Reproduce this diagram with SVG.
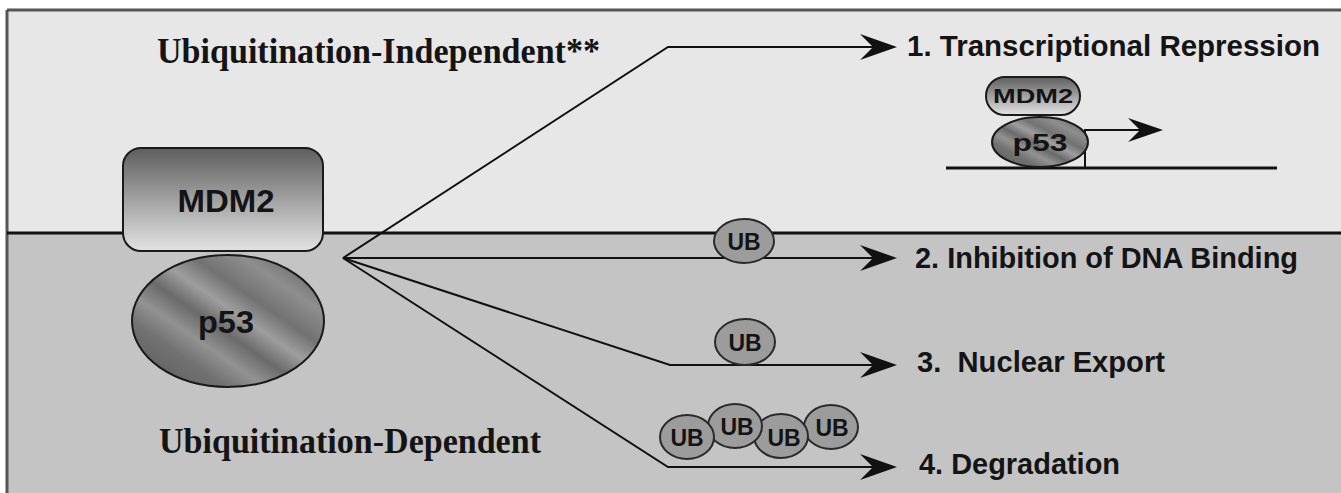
<svg xmlns="http://www.w3.org/2000/svg" width="1341" height="493" viewBox="0 0 1341 493">
<style>
.serif{font-family:"Liberation Serif","Times New Roman",serif;font-weight:bold;fill:#141414}
.sans{font-family:"Liberation Sans",Arial,sans-serif;font-weight:bold;fill:#141414}
.lbl{font-size:30px;white-space:pre}
.conn{fill:none;stroke:#111;stroke-width:2}
.ub{fill:#9c9c9c;stroke:#2a2a2a;stroke-width:2}
.ubt{font-size:23px;text-anchor:middle}
</style>
<defs>
<linearGradient id="gMdm" x1="0" y1="0" x2="0" y2="1">
<stop offset="0" stop-color="#5e5e5e"/>
<stop offset="0.55" stop-color="#a8a8a8"/>
<stop offset="1" stop-color="#e2e2e2"/>
</linearGradient>
<linearGradient id="gP53" x1="0" y1="1" x2="1" y2="0">
<stop offset="0" stop-color="#565656"/>
<stop offset="0.25" stop-color="#727272"/>
<stop offset="0.35" stop-color="#929292"/>
<stop offset="0.45" stop-color="#6a6a6a"/>
<stop offset="0.55" stop-color="#9e9e9e"/>
<stop offset="0.65" stop-color="#727272"/>
<stop offset="0.78" stop-color="#8e8e8e"/>
<stop offset="1" stop-color="#525252"/>
</linearGradient>
<marker id="arr" markerUnits="userSpaceOnUse" viewBox="-40 -15 42 30" markerWidth="42" markerHeight="30" refX="-17" refY="0" orient="auto">
<path d="M0,0 L-37,-13 L-24,0 L-37,13 Z" fill="#111"/>
</marker>
<marker id="arrS" markerUnits="userSpaceOnUse" viewBox="-40 -15 42 30" markerWidth="42" markerHeight="30" refX="-15" refY="0" orient="auto">
<path d="M0,0 L-35,-12 L-23,0 L-35,12 Z" fill="#111"/>
</marker>
</defs>

<g id="background">
<rect x="0" y="0" width="1341" height="493" fill="#ffffff"/>
<rect x="7" y="10" width="1334" height="223" fill="#e7e7e7"/>
<rect x="7" y="233" width="1334" height="260" fill="#c4c4c4"/>
<line x1="7" y1="10" x2="1341" y2="10" stroke="#555" stroke-width="3"/>
<line x1="7" y1="10" x2="7" y2="493" stroke="#555" stroke-width="3"/>
<line x1="7" y1="233" x2="1341" y2="233" stroke="#111" stroke-width="3"/>
</g>

<g id="region-labels">
<text class="serif" x="157" y="63" font-size="35" textLength="443" lengthAdjust="spacingAndGlyphs">Ubiquitination-Independent**</text>
<text class="serif" x="159" y="453" font-size="35" textLength="382" lengthAdjust="spacingAndGlyphs">Ubiquitination-Dependent</text>
</g>

<g id="connectors">
<polyline class="conn" points="343,258 668,47 880,47" marker-end="url(#arr)"/>
<polyline class="conn" points="343,258 880,258" marker-end="url(#arr)"/>
<polyline class="conn" points="343,258 670,365 880,365" marker-end="url(#arr)"/>
<polyline class="conn" points="343,258 668,467 880,467" marker-end="url(#arr)"/>
</g>

<g id="node-mdm2">
<rect x="123" y="148" width="200" height="103" rx="18" fill="url(#gMdm)" stroke="#1a1a1a" stroke-width="2"/>
<text class="sans" x="226" y="212" font-size="32" text-anchor="middle" textLength="97" lengthAdjust="spacingAndGlyphs">MDM2</text>
</g>

<g id="node-p53">
<ellipse cx="228" cy="321" rx="96" ry="66" fill="url(#gP53)" stroke="#1a1a1a" stroke-width="2"/>
<text class="sans" x="226" y="333" font-size="32" text-anchor="middle" textLength="56" lengthAdjust="spacingAndGlyphs">p53</text>
</g>

<g id="node-ub-2">
<ellipse class="ub" cx="744" cy="241" rx="30" ry="22"/>
<text class="sans ubt" x="744" y="250">UB</text>
</g>

<g id="node-ub-3">
<ellipse class="ub" cx="745" cy="342" rx="30" ry="23"/>
<text class="sans ubt" x="745" y="351">UB</text>
</g>

<g id="node-ub-chain">
<ellipse class="ub" cx="831" cy="427" rx="27" ry="22"/>
<text class="sans ubt" x="832" y="436">UB</text>
<ellipse class="ub" cx="781" cy="436" rx="27" ry="22"/>
<text class="sans ubt" x="784" y="446">UB</text>
<ellipse class="ub" cx="735" cy="426" rx="27" ry="22"/>
<text class="sans ubt" x="737" y="435">UB</text>
<ellipse class="ub" cx="687" cy="437" rx="27" ry="22"/>
<text class="sans ubt" x="687" y="446">UB</text>
</g>

<g id="node-complex">
<line x1="946" y1="168" x2="1277" y2="168" stroke="#111" stroke-width="3"/>
<polyline class="conn" points="1085,168 1085,130 1148,130" marker-end="url(#arrS)"/>
<ellipse cx="1040" cy="142" rx="48" ry="25" fill="url(#gP53)" stroke="#1a1a1a" stroke-width="2"/>
<text class="sans" x="1040" y="151" font-size="23" text-anchor="middle" textLength="55" lengthAdjust="spacingAndGlyphs">p53</text>
<rect x="986" y="77" width="94" height="38" rx="19" fill="url(#gMdm)" stroke="#1a1a1a" stroke-width="2"/>
<text class="sans" x="1033" y="103" font-size="21" text-anchor="middle" textLength="80" lengthAdjust="spacingAndGlyphs">MDM2</text>
</g>

<g id="outcome-labels">
<text class="sans lbl" x="907" y="56" textLength="413" lengthAdjust="spacingAndGlyphs">1. Transcriptional Repression</text>
<text class="sans lbl" x="915" y="268" textLength="383" lengthAdjust="spacingAndGlyphs">2. Inhibition of DNA Binding</text>
<text class="sans lbl" x="917" y="372" textLength="248" lengthAdjust="spacingAndGlyphs">3.  Nuclear Export</text>
<text class="sans lbl" x="919" y="474" textLength="201" lengthAdjust="spacingAndGlyphs">4. Degradation</text>
</g>
</svg>
